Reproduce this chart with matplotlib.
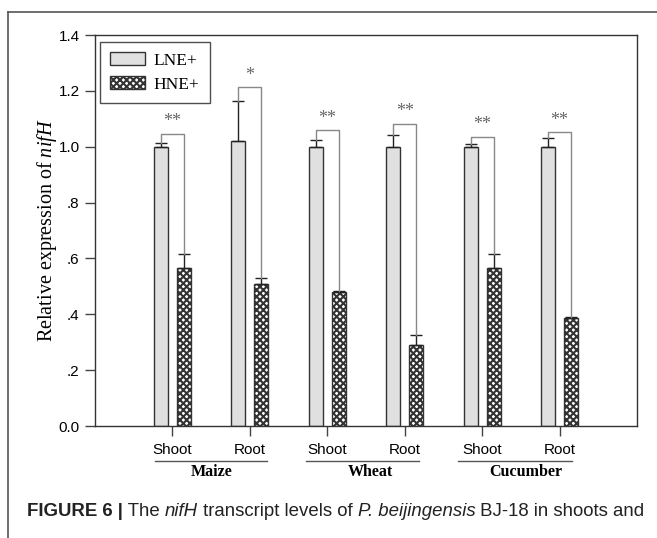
import matplotlib
matplotlib.use('Agg')
import matplotlib.pyplot as plt
from matplotlib.patches import Patch
from matplotlib.lines import Line2D
import numpy as np

# Data
tissues = ['Shoot', 'Root', 'Shoot', 'Root', 'Shoot', 'Root']
crops = ['Maize', 'Wheat', 'Cucumber']
lne = [1.0, 1.02, 1.0, 1.0, 1.0, 1.0]
lne_err = [0.012, 0.145, 0.024, 0.042, 0.01, 0.032]
hne = [0.565, 0.51, 0.48, 0.29, 0.565, 0.385]
hne_err = [0.05, 0.02, 0.005, 0.035, 0.05, 0.007]
bracket_top = [1.047, 1.214, 1.06, 1.082, 1.036, 1.051]
stars = ['**', '*', '**', '**', '**', '**']

plt.rcParams['hatch.linewidth'] = 1.5
plt.rcParams['hatch.color'] = '#111111'
plt.rcParams['mathtext.fontset'] = 'custom'
plt.rcParams['mathtext.rm'] = 'Liberation Serif'
plt.rcParams['mathtext.it'] = 'Liberation Serif:italic'

fig = plt.figure(figsize=(6.57, 5.38), dpi=100)
ax = fig.add_axes([95 / 657, 1 - 426 / 538, 542 / 657, 391 / 538])

x = np.arange(len(tissues))
w = 0.18
off = 0.148
edge = '#333333'

ax.bar(x - off, lne, w, color='#e0e0e0', edgecolor=edge, linewidth=1.0,
       yerr=[np.zeros(6), lne_err], capsize=4,
       error_kw=dict(ecolor='#222222', elinewidth=1.0, capthick=1.0), zorder=2)
ax.bar(x + off, hne, w, color='white', edgecolor=edge, linewidth=1.0, hatch='xxxxx',
       yerr=[np.zeros(6), hne_err], capsize=4,
       error_kw=dict(ecolor='#222222', elinewidth=1.0, capthick=1.0), zorder=2)

# significance brackets
for i in range(len(x)):
    top = bracket_top[i]
    xs = [x[i] - off, x[i] - off, x[i] + off, x[i] + off]
    ys = [lne[i] + lne_err[i], top, top, hne[i] + hne_err[i]]
    ax.plot(xs, ys, color='#888888', lw=1.0, zorder=3)
    ax.text(x[i], top + 0.012, stars[i], ha='center', va='bottom',
            fontsize=13, color='#666666', family='Liberation Serif')

ax.set_xlim(-1, 6)
ax.set_ylim(0, 1.4)
ax.set_yticks(np.arange(0, 1.41, 0.2))
ax.set_yticklabels(['0.0', '.2', '.4', '.6', '.8', '1.0', '1.2', '1.4'])
ax.set_xticks(x)
ax.set_xticklabels(tissues)
for lab in ax.get_xticklabels() + ax.get_yticklabels():
    lab.set_family('Liberation Sans')
    lab.set_fontsize(11)
ax.tick_params(direction='out', length=7, width=1.0, color='#444444', pad=4)
ax.tick_params(axis='x', pad=5)
for s in ax.spines.values():
    s.set_color('#333333')
    s.set_linewidth(1.0)

ax.set_ylabel('Relative expression of $\\mathit{nifH}$', family='Liberation Serif',
              fontsize=14.5, labelpad=0)

# crop labels under tick labels
spans = [(-0.23, 1.22), (1.73, 3.19), (3.69, 5.16)]
name_x = [0.5, 2.56, 4.57]
for (a, b), nx, name in zip(spans, name_x, crops):
    ax.plot([a, b], [-0.125, -0.125], color='#555555', lw=1.0, clip_on=False)
    ax.text(nx, -0.165, name, ha='center', va='center', fontsize=11.5,
            fontweight='bold', family='Liberation Serif')

leg = ax.legend(handles=[Patch(facecolor='#e0e0e0', edgecolor=edge, label='LNE+'),
                         Patch(facecolor='white', edgecolor=edge, hatch='xxxxx', label='HNE+')],
                loc='upper left', bbox_to_anchor=(0.009, 0.982), frameon=True, fancybox=False,
                prop=dict(family='Liberation Serif', size=12.5), handlelength=2.0,
                handleheight=0.7, borderpad=0.6, labelspacing=0.45, handletextpad=0.5,
                borderaxespad=0.0)
leg.get_frame().set_edgecolor('#222222')
leg.get_frame().set_linewidth(1.0)

# outer frame of the figure panel
fig.add_artist(Line2D([8 / 657, 1], [1 - 12 / 538, 1 - 12 / 538], color='#555555', lw=1.2))
fig.add_artist(Line2D([8 / 657, 8 / 657], [0, 1 - 12 / 538], color='#555555', lw=1.2))

# caption with mixed styles
renderer = fig.canvas.get_renderer()
cx = 27 / 657
cy = 1 - 512 / 538
pieces = [('FIGURE 6 |', 'bold', 'normal'), (' The ', 'normal', 'normal'),
          ('nifH', 'normal', 'italic'), (' transcript levels of ', 'normal', 'normal'),
          ('P. beijingensis', 'normal', 'italic'), (' BJ-18 in shoots and', 'normal', 'normal')]
for txt, weight, style in pieces:
    t = fig.text(cx, cy, txt, fontsize=13.4, fontweight=weight, fontstyle=style,
                 family='Liberation Sans', color='#222222', va='center', ha='left')
    bb = t.get_window_extent(renderer=renderer)
    cx += bb.width / fig.bbox.width

fig.savefig('out.png', dpi=100)
